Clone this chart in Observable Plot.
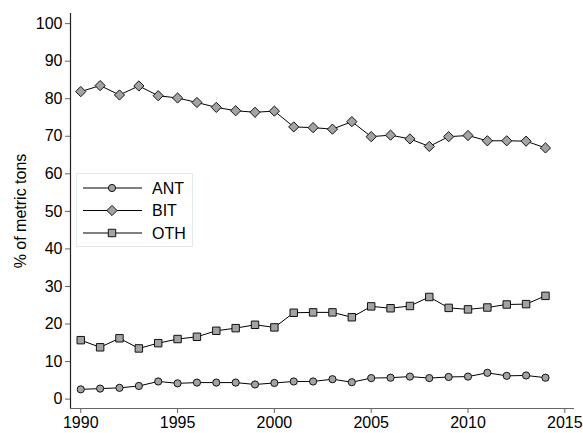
<!DOCTYPE html>
<html>
<head>
<meta charset="utf-8">
<script src="https://cdn.jsdelivr.net/npm/d3@7"></script>
<script src="https://cdn.jsdelivr.net/npm/@observablehq/plot@0.6"></script>
<style>
  body { margin: 0; background: #fff; font-family: "Liberation Sans", Arial, sans-serif; }
  #wrap { position: relative; width: 583px; height: 433px; }
  #legend { position: absolute; left: 76px; top: 173px; }
</style>
</head>
<body>
<div id="wrap">
  <div id="chart"></div>
  <div id="legend"></div>
</div>
<script>
// shares of coal production by rank, % of metric tons
const years = [1990, 1991, 1992, 1993, 1994, 1995, 1996, 1997, 1998, 1999, 2000, 2001, 2002,
  2003, 2004, 2005, 2006, 2007, 2008, 2009, 2010, 2011, 2012, 2013, 2014]
const ant = [2.6, 2.8, 3.0, 3.5, 4.7, 4.2, 4.4, 4.4, 4.4, 3.9, 4.3, 4.7, 4.7,
  5.3, 4.5, 5.6, 5.7, 6.0, 5.6, 5.9, 6.0, 7.0, 6.2, 6.3, 5.7]
const bit = [81.9, 83.5, 81.0, 83.4, 80.8, 80.2, 79.0, 77.7, 76.8, 76.4, 76.7, 72.5, 72.3,
  71.9, 73.9, 69.9, 70.3, 69.3, 67.3, 69.9, 70.2, 68.8, 68.8, 68.7, 66.9]
const oth = [15.7, 13.8, 16.2, 13.5, 14.9, 16.0, 16.6, 18.2, 18.9, 19.8, 19.1, 23.0, 23.1,
  23.1, 21.8, 24.7, 24.2, 24.8, 27.2, 24.3, 23.9, 24.4, 25.2, 25.3, 27.5]
const xTicks = [1990, 1995, 2000, 2005, 2010, 2015]
const yTicks = [0, 10, 20, 30, 40, 50, 60, 70, 80, 90, 100]

const series = [
  {name: 'ANT', values: ant, symbol: 'circle', r: 3.6},
  {name: 'BIT', values: bit, symbol: 'diamond2', r: 4.6},
  {name: 'OTH', values: oth, symbol: 'square', r: 4.2}
]
const fillGray = '#a3a3a3'

const xDomain = [1989.47, 2015.5]
const yDomain = [-2.5, 102.7]

const marks = []
series.forEach(s => {
  const rows = years.map((y, i) => ({year: y, value: s.values[i]}))
  marks.push(Plot.line(rows, {x: 'year', y: 'value', stroke: '#000', strokeWidth: 1}))
  marks.push(Plot.dot(rows, {x: 'year', y: 'value', symbol: () => s.symbol, r: s.r,
    fill: fillGray, stroke: '#111', strokeWidth: 1}))
})

const chart = Plot.plot({
  width: 583,
  height: 433,
  marginLeft: 70,
  marginRight: 9,
  marginTop: 13,
  marginBottom: 25,
  style: {fontFamily: '"Liberation Sans", Arial, sans-serif', fontSize: '16px', color: '#000', background: '#fff'},
  symbol: {type: 'identity'},
  x: {domain: xDomain, axis: null},
  y: {domain: yDomain, axis: null},
  marks: [
    Plot.axisY(yTicks, {tickSize: 5, tickPadding: 3, stroke: '#666', fontSize: 16,
      label: '% of metric tons', labelAnchor: 'center', labelOffset: 56, labelArrow: 'none'}),
    Plot.axisX(xTicks, {tickSize: 5, tickPadding: 3, stroke: '#666', fontSize: 16,
      tickFormat: d => String(d), label: null}),
    Plot.ruleX([xDomain[0]], {stroke: '#222', strokeWidth: 1.2}),
    Plot.ruleY([yDomain[0]], {stroke: '#666', strokeWidth: 1.2}),
    ...marks
  ]
})
d3.select('#chart').append(() => chart)

// legend box
const lw = 117, lh = 74
const leg = d3.select('#legend').append('svg').attr('width', lw).attr('height', lh)
leg.append('rect').attr('x', 0.5).attr('y', 0.5).attr('width', lw - 1).attr('height', lh - 1)
  .attr('fill', '#fff').attr('stroke', '#e3eaee')
const symbolTypes = {circle: d3.symbolCircle, diamond2: d3.symbolDiamond2, square: d3.symbolSquare}
series.forEach((s, i) => {
  const y = 15 + i * 22.5
  const g = leg.append('g').attr('transform', `translate(0,${y})`)
  g.append('line').attr('x1', 7).attr('x2', 66).attr('stroke', '#000')
  g.append('path').attr('transform', 'translate(36,0)')
    .attr('d', d3.symbol(symbolTypes[s.symbol], Math.PI * s.r * s.r)())
    .attr('fill', fillGray).attr('stroke', '#111')
  g.append('text').attr('x', 76).attr('dy', '0.35em').attr('font-size', 16)
    .attr('font-family', '"Liberation Sans", Arial, sans-serif').text(s.name)
})
</script>
</body>
</html>
